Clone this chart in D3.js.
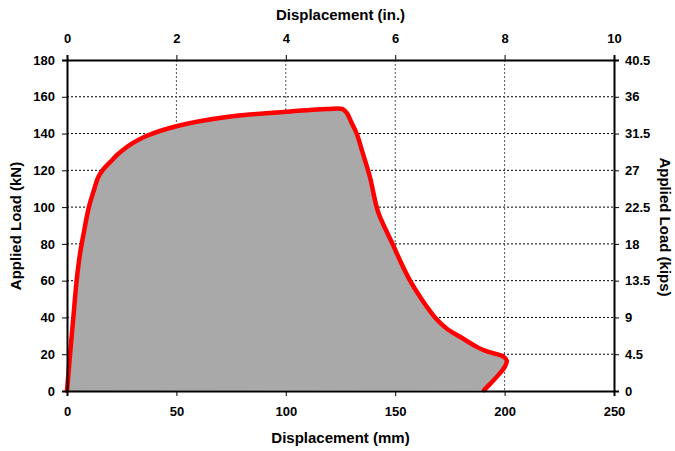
<!DOCTYPE html>
<html>
<head>
<meta charset="utf-8">
<script src="https://cdn.jsdelivr.net/npm/d3@7"></script>
<style>
	body { margin: 0; background: #fff; }
	text { font-family: Arial, "Liberation Sans", sans-serif; font-weight: bold; fill: #000; }
</style>
</head>
<body>
<svg id="chart" width="675" height="451"></svg>
<script>
// load-displacement curve (mm, kN)
var dispMm = [0, 1.4, 2.9, 4.4, 6, 7.5, 10, 12.5, 14, 15.5, 17.5, 20, 23, 26, 30, 36.5, 50, 73, 100, 119, 126,
	128, 130, 132.4, 135, 137.6, 138.8, 140, 141.2, 142.6, 144.8, 148.8, 152.6, 156.8, 162, 168.2, 173.5, 179.6, 187.3,
	191, 195, 199.3, 201, 200, 197, 193.5, 190.6];
var loadKn = [0, 20, 40, 60, 75, 85, 100, 110, 115.5, 118.8, 121.8, 124.8, 128.5, 131.5, 134.8, 138.8, 144, 149, 151.8, 153.3, 153.3,
	151, 146, 140, 130, 120, 114.7, 108, 101.5, 96, 90, 80, 70, 60, 50, 40, 34, 29.5, 24,
	22, 20.5, 18.8, 16.5, 13, 8.5, 4, 0.5];

var mmTicks = [0, 50, 100, 150, 200, 250];
var knTicks = [0, 20, 40, 60, 80, 100, 120, 140, 160, 180];
var inTicks = [0, 2, 4, 6, 8, 10];
var kipTicks = [0, 4.5, 9, 13.5, 18, 22.5, 27, 31.5, 36, 40.5];

var W = 675, H = 451;
var m = { top: 60, right: 61, bottom: 60, left: 67 };
var w = W - m.left - m.right, h = H - m.top - m.bottom;

var svg = d3.select('#chart');
var g = svg.append('g').attr('transform', `translate(${m.left},${m.top})`);

var x = d3.scaleLinear().domain([0, 250]).range([0, w]);
var xIn = d3.scaleLinear().domain([0, 10]).range([0, w]);
var y = d3.scaleLinear().domain([0, 180]).range([h, 0]);
var yKip = d3.scaleLinear().domain([0, 40.5]).range([h, 0]);

// dotted grid
g.append('g').selectAll('line').data(knTicks.slice(1, -1)).enter().append('line')
	.attr('x1', 0).attr('x2', w).attr('y1', (d) => y(d)).attr('y2', (d) => y(d))
	.attr('stroke', '#000').attr('stroke-dasharray', '2,2');
g.append('g').selectAll('line').data(inTicks.slice(1, -1)).enter().append('line')
	.attr('y1', 0).attr('y2', h).attr('x1', (d) => xIn(d)).attr('x2', (d) => xIn(d))
	.attr('stroke', '#555').attr('stroke-dasharray', '2,2');

var pts = dispMm.map((d, i) => [d, loadKn[i]]);
var line = d3.line().x((d) => x(d[0])).y((d) => y(d[1])).curve(d3.curveCatmullRom.alpha(0.5));

g.append('path').attr('d', line(pts) + 'Z').attr('fill', '#a9a9a9');
g.append('path').attr('d', line(pts)).attr('fill', 'none')
	.attr('stroke', '#ff0000').attr('stroke-width', 4.5)
	.attr('stroke-linejoin', 'round').attr('stroke-linecap', 'round');

// axes
var styleAxis = (sel) => {
	sel.select('.domain').attr('stroke', '#000').attr('stroke-width', 2);
	sel.selectAll('.tick line').attr('stroke', '#000');
	sel.selectAll('.tick text').style('font-size', '13px');
};
var fmt = (d) => String(d);
g.append('g').attr('transform', `translate(0,${h})`)
	.call(d3.axisBottom(x).tickValues(mmTicks).tickFormat(fmt).tickSizeOuter(0).tickSize(5).tickPadding(11)).call(styleAxis);
g.append('g')
	.call(d3.axisTop(xIn).tickValues(inTicks).tickFormat(fmt).tickSizeOuter(0).tickSize(5).tickPadding(12)).call(styleAxis);
g.append('g')
	.call(d3.axisLeft(y).tickValues(knTicks).tickFormat(fmt).tickSizeOuter(0).tickSize(5).tickPadding(7)).call(styleAxis);
g.append('g').attr('transform', `translate(${w},0)`)
	.call(d3.axisRight(yKip).tickValues(kipTicks).tickFormat(fmt).tickSizeOuter(0).tickSize(5).tickPadding(6)).call(styleAxis);

// titles
var title = (txt, tx, ty, rot) => svg.append('text')
	.attr('transform', `translate(${tx},${ty}) rotate(${rot})`)
	.attr('text-anchor', 'middle').style('font-size', '15px').text(txt);
title('Displacement (in.)', m.left + w / 2, 20, 0);
title('Displacement (mm)', m.left + w / 2, 443, 0);
title('Applied Load (kN)', 21, 226, -90);
title('Applied Load (kips)', 660, 227, 90);
</script>
</body>
</html>
